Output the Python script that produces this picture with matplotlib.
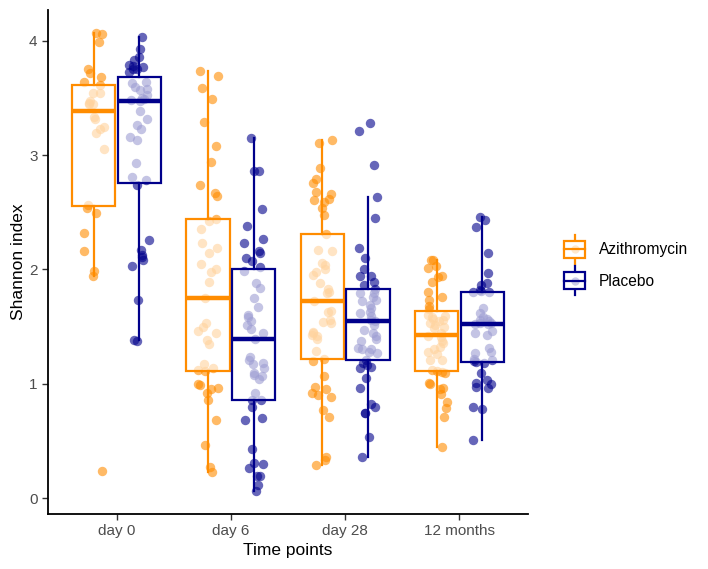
import numpy as np
import matplotlib.pyplot as plt
from matplotlib.patches import Rectangle
from matplotlib.lines import Line2D
from matplotlib.legend_handler import HandlerBase

plt.rcParams['font.family'] = ['Liberation Sans', 'DejaVu Sans']

timepoints = ["day 0", "day 6", "day 28", "12 months"]
groups = ["Azithromycin", "Placebo"]
colors = ["#FF8C00", "#00008B"]

# Shannon index values, one list per time point and arm
azi_day0 = [4.07, 4.06, 3.99, 3.75, 3.72, 3.68, 3.64, 3.61, 3.54, 3.54, 3.47,
            3.46, 3.45, 3.45, 3.33, 3.32, 3.25, 3.23, 3.19, 3.05, 2.56, 2.54,
            2.49, 2.32, 2.16, 1.99, 1.94, 0.24]
pla_day0 = [4.03, 3.93, 3.86, 3.83, 3.79, 3.78, 3.77, 3.75, 3.75, 3.73, 3.64,
            3.63, 3.60, 3.58, 3.57, 3.53, 3.50, 3.49, 3.48, 3.47, 3.39, 3.32,
            3.26, 3.23, 3.16, 3.13, 2.93, 2.81, 2.78, 2.74, 2.26, 2.17, 2.13,
            2.11, 2.08, 2.03, 1.73, 1.38, 1.37]
azi_day6 = [3.74, 3.69, 3.59, 3.49, 3.29, 3.08, 2.94, 2.74, 2.67, 2.64, 2.44,
            2.42, 2.35, 2.23, 2.19, 2.14, 2.05, 2.00, 1.98, 1.89, 1.75, 1.53,
            1.50, 1.46, 1.44, 1.38, 1.35, 1.17, 1.14, 1.12, 1.11, 1.00, 0.99,
            0.96, 0.95, 0.92, 0.86, 0.68, 0.46, 0.27, 0.23]
pla_day6 = [3.15, 2.86, 2.86, 2.53, 2.38, 2.27, 2.23, 2.16, 2.14, 2.10, 2.07,
            2.02, 1.99, 1.88, 1.84, 1.75, 1.67, 1.60, 1.58, 1.55, 1.51, 1.48,
            1.44, 1.39, 1.23, 1.21, 1.18, 1.17, 1.14, 1.09, 1.08, 1.07, 1.04,
            0.92, 0.86, 0.86, 0.80, 0.70, 0.68, 0.43, 0.31, 0.30, 0.26, 0.19,
            0.19, 0.11, 0.06]
azi_day28 = [3.13, 3.11, 2.89, 2.79, 2.76, 2.68, 2.66, 2.62, 2.61, 2.59, 2.54,
             2.48, 2.31, 2.17, 2.16, 2.06, 2.04, 2.00, 1.98, 1.95, 1.88, 1.83,
             1.80, 1.79, 1.72, 1.64, 1.63, 1.56, 1.54, 1.53, 1.45, 1.44, 1.43,
             1.42, 1.39, 1.29, 1.22, 1.20, 1.07, 0.97, 0.95, 0.92, 0.90, 0.88,
             0.77, 0.71, 0.36, 0.33, 0.29]
pla_day28 = [3.28, 3.21, 2.91, 2.63, 2.45, 2.19, 2.10, 2.00, 1.94, 1.94, 1.89,
             1.86, 1.83, 1.79, 1.79, 1.76, 1.73, 1.72, 1.69, 1.66, 1.63, 1.62,
             1.59, 1.56, 1.55, 1.51, 1.47, 1.44, 1.42, 1.39, 1.37, 1.31, 1.30,
             1.30, 1.28, 1.27, 1.21, 1.18, 1.16, 1.15, 1.14, 1.05, 0.96, 0.82,
             0.80, 0.74, 0.74, 0.53, 0.36]
azi_12m = [2.08, 2.08, 2.03, 2.01, 1.94, 1.93, 1.89, 1.80, 1.76, 1.73, 1.68,
           1.65, 1.60, 1.59, 1.58, 1.57, 1.56, 1.55, 1.53, 1.51, 1.50, 1.49,
           1.44, 1.42, 1.41, 1.37, 1.36, 1.32, 1.30, 1.28, 1.26, 1.21, 1.21,
           1.12, 1.11, 1.10, 1.09, 1.01, 1.00, 0.96, 0.95, 0.91, 0.84, 0.79,
           0.71, 0.45]
pla_12m = [2.46, 2.43, 2.37, 2.14, 1.97, 1.88, 1.86, 1.82, 1.81, 1.80, 1.80,
           1.66, 1.62, 1.58, 1.57, 1.56, 1.55, 1.53, 1.53, 1.52, 1.52, 1.46,
           1.44, 1.43, 1.31, 1.28, 1.27, 1.22, 1.21, 1.20, 1.19, 1.18, 1.09,
           1.03, 1.01, 1.00, 0.97, 0.96, 0.80, 0.78, 0.51]

data = [[azi_day0, pla_day0], [azi_day6, pla_day6],
        [azi_day28, pla_day28], [azi_12m, pla_12m]]

fig = plt.figure(figsize=(7.08, 5.69), dpi=100)
ax = fig.add_axes([48 / 708, 1 - 514 / 569, 480 / 708, 504 / 569])

rng = np.random.default_rng(7)
offsets = [-0.2, 0.2]
box_w = 0.38

for i, pair in enumerate(data):
    for j, vals in enumerate(pair):
        pos = i + 1 + offsets[j]
        col = colors[j]
        jit = rng.uniform(-0.09, 0.09, len(vals))
        ax.scatter(pos + jit, vals, s=46, color=col, alpha=0.6,
                   linewidths=0, zorder=1)
        ax.boxplot(vals, positions=[pos], widths=box_w, patch_artist=True,
                   showfliers=False, showcaps=False, whis=1.5,
                   boxprops=dict(facecolor=(1, 1, 1, 0.62), edgecolor=col,
                                 linewidth=1.6),
                   whiskerprops=dict(color=col, linewidth=1.6),
                   medianprops=dict(color=col, linewidth=3.2,
                                    solid_capstyle='butt'),
                   zorder=2, manage_ticks=False)

ax.set_xlim(0.4, 4.6)
ax.set_ylim(-0.14, 4.27)
ax.set_xticks(range(1, 5))
ax.set_xticklabels(timepoints)
ax.set_yticks([0, 1, 2, 3, 4])
ax.tick_params(axis='both', colors='#333333', labelcolor='#4D4D4D',
               labelsize=11, length=4, width=1)
for s in ['top', 'right']:
    ax.spines[s].set_visible(False)
for s in ['left', 'bottom']:
    ax.spines[s].set_linewidth(1.3)
    ax.spines[s].set_color('black')
ax.set_xlabel("Time points", fontsize=12.5, labelpad=3)
ax.set_ylabel("Shannon index", fontsize=12.5, labelpad=2)


class BoxKey(HandlerBase):
    def __init__(self, color):
        super().__init__()
        self.color = color

    def create_artists(self, legend, orig_handle, xdescent, ydescent,
                       width, height, fontsize, trans):
        c = self.color
        cx = width / 2 - xdescent
        bw = width * 0.9
        y0 = -ydescent
        artists = [
            Line2D([cx, cx], [y0 - height * 0.35, y0 + height * 1.35],
                   color=c, lw=1.6, transform=trans),
            Rectangle((cx - bw / 2, y0), bw, height, facecolor='white',
                      edgecolor=c, lw=1.6, transform=trans),
            Line2D([cx], [y0 + height / 2], marker='o', ms=6, color=c,
                   alpha=0.2, mew=0, transform=trans),
            Line2D([cx - bw / 2, cx + bw / 2], [y0 + height / 2] * 2,
                   color=c, lw=1.6, transform=trans),
        ]
        return artists


handles = [Rectangle((0, 0), 1, 1), Rectangle((0, 0), 1, 1)]
fig.legend(handles, groups, loc='center left',
           bbox_to_anchor=(549 / 708, 1 - 265 / 569), frameon=False,
           fontsize=11.2, handlelength=1.5, handleheight=1.3,
           handletextpad=0.8, labelspacing=0.95,
           handler_map={handles[0]: BoxKey(colors[0]),
                        handles[1]: BoxKey(colors[1])})

fig.savefig("out.png", dpi=100)
